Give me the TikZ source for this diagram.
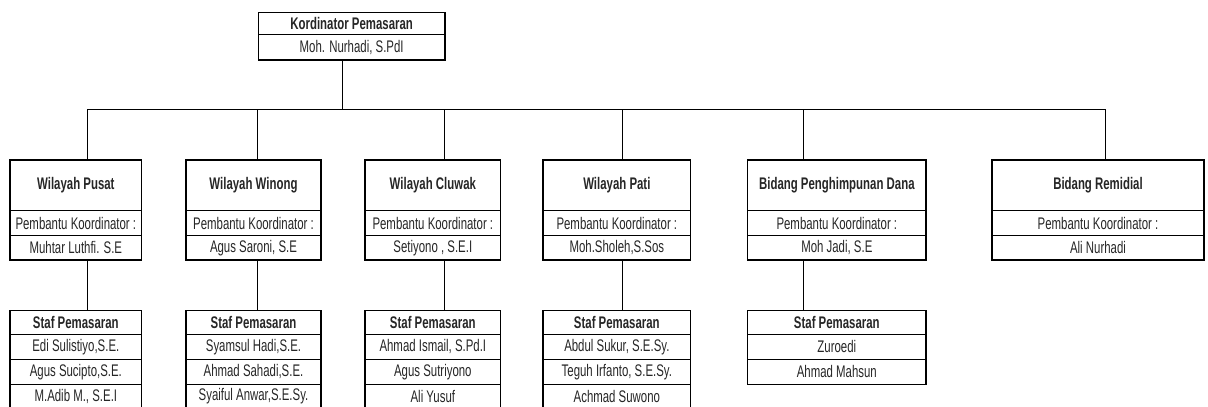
\documentclass[tikz,border=0pt]{standalone}
\usepackage{fontspec}
\setmainfont[FakeStretch=0.68,Ligatures=NoCommon]{Liberation Sans}
\begin{document}
\begin{tikzpicture}[x=1pt,y=-1pt,
  cell/.style={draw=black,line width=1.2pt,inner sep=0pt,outer sep=0pt,
    font=\fontsize{16.8}{16.8}\selectfont,text=black!85},
  head/.style={font=\fontsize{16.8}{16.8}\selectfont\bfseries},
  conn/.style={draw=black,line width=1.2pt}]
\useasboundingbox (0,0) rectangle (1208,407);
\newcommand\mycell[7]{%
  \node[cell,#6,minimum width={(#4-#2)*1pt},minimum height={(#5-#3)*1pt}]
    (#1) at ({(#2+#4)/2},{(#3+#5)/2}) {#7};}
% top
\mycell{ta}{258.3}{12.7}{445}{34.3}{head}{Kordinator Pemasaran}
\mycell{tb}{258.3}{34.3}{445}{60}{}{Moh. Nurhadi, S.PdI}
% level 2
\mycell{b1a}{10}{160}{141.7}{210.7}{head}{Wilayah Pusat}
\mycell{b1b}{10}{210.7}{141.7}{235.7}{}{Pembantu Koordinator :}
\mycell{b1c}{10}{235.7}{141.7}{260}{}{Muhtar Luthfi. S.E}
\mycell{b2a}{186}{160}{321}{210.7}{head}{Wilayah Winong}
\mycell{b2b}{186}{210.7}{321}{235.7}{}{Pembantu Koordinator :}
\mycell{b2c}{186}{235.7}{321}{260}{}{Agus Saroni, S.E}
\mycell{b3a}{365}{160}{500.7}{210.7}{head}{Wilayah Cluwak}
\mycell{b3b}{365}{210.7}{500.7}{235.7}{}{Pembantu Koordinator :}
\mycell{b3c}{365}{235.7}{500.7}{260}{}{Setiyono , S.E.I}
\mycell{b4a}{543}{160}{690.7}{210.7}{head}{Wilayah Pati}
\mycell{b4b}{543}{210.7}{690.7}{235.7}{}{Pembantu Koordinator :}
\mycell{b4c}{543}{235.7}{690.7}{260}{}{Moh.Sholeh,S.Sos}
\mycell{b5a}{747.7}{160}{926}{210.7}{head}{Bidang Penghimpunan Dana}
\mycell{b5b}{747.7}{210.7}{926}{235.7}{}{Pembantu Koordinator :}
\mycell{b5c}{747.7}{235.7}{926}{260}{}{Moh Jadi, S.E}
\mycell{b6a}{992}{160}{1204}{210.7}{head}{Bidang Remidial}
\mycell{b6b}{992}{210.7}{1204}{235.7}{}{Pembantu Koordinator :}
\mycell{b6c}{992}{235.7}{1204}{260}{}{Ali Nurhadi}
% level 3
\mycell{s1a}{10}{310.7}{141.7}{334.3}{head}{Staf Pemasaran}
\mycell{s1b}{10}{334.3}{141.7}{359.3}{}{Edi Sulistiyo,S.E.}
\mycell{s1c}{10}{359.3}{141.7}{384.3}{}{Agus Sucipto,S.E.}
\mycell{s1d}{10}{384.3}{141.7}{409}{}{M.Adib M., S.E.I}
\mycell{s2a}{186}{310.7}{321}{334.3}{head}{Staf Pemasaran}
\mycell{s2b}{186}{334.3}{321}{359.3}{}{Syamsul Hadi,S.E.}
\mycell{s2c}{186}{359.3}{321}{384.3}{}{Ahmad Sahadi,S.E.}
\mycell{s2d}{186}{384.3}{321}{409}{}{Syaiful Anwar,S.E.Sy.}
\mycell{s3a}{365}{310.7}{500.7}{334.3}{head}{Staf Pemasaran}
\mycell{s3b}{365}{334.3}{500.7}{359.3}{}{Ahmad Ismail, S.Pd.I}
\mycell{s3c}{365}{359.3}{500.7}{384.3}{}{Agus Sutriyono}
\mycell{s3d}{365}{384.3}{500.7}{409}{}{Ali Yusuf}
\mycell{s4a}{543}{310.7}{690.7}{334.3}{head}{Staf Pemasaran}
\mycell{s4b}{543}{334.3}{690.7}{359.3}{}{Abdul Sukur, S.E.Sy.}
\mycell{s4c}{543}{359.3}{690.7}{384.3}{}{Teguh Irfanto, S.E.Sy.}
\mycell{s4d}{543}{384.3}{690.7}{409}{}{Achmad Suwono}
\mycell{s5a}{747.7}{310.7}{926}{334.3}{head}{Staf Pemasaran}
\mycell{s5b}{747.7}{334.3}{926}{359.3}{}{Zuroedi}
\mycell{s5c}{747.7}{359.3}{926}{384.3}{}{Ahmad Mahsun}
% bus
\coordinate (j0) at (342.7,109.3);
\coordinate (j1) at (87.7,109.3);
\coordinate (j2) at (257.7,109.3);
\coordinate (j3) at (444.3,109.3);
\coordinate (j4) at (622.7,109.3);
\coordinate (j5) at (803.3,109.3);
\coordinate (j6) at (1105.7,109.3);
\draw[conn] (j1) -- (j6);
\draw[conn] (tb.south -| j0) -- (j0);
\foreach \i in {1,...,6}{\draw[conn] (j\i) -- (b\i a.north -| j\i);}
\foreach \i in {1,...,5}{\draw[conn] (b\i c.south -| j\i) -- (s\i a.north -| j\i);}
\end{tikzpicture}
\end{document}
